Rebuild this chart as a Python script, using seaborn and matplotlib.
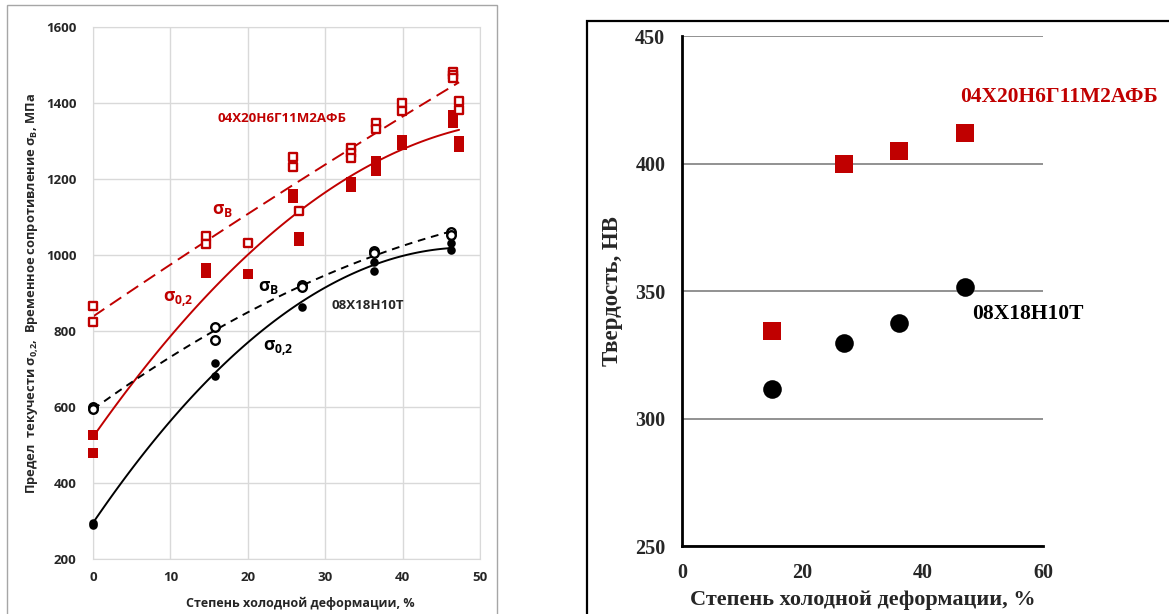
import matplotlib
matplotlib.use("Agg")
import matplotlib.pyplot as plt
import seaborn as sns
from matplotlib.patches import Rectangle

RED = "#c00000"
DARK = "#262626"

# --- left chart: strength vs. cold deformation, %
# 04Х20Н6Г11М2АФБ, yield strength σ0,2 (filled squares)
red_ys_x = [0, 0, 14.6, 14.6, 20, 25.9, 25.9, 26.6, 26.6, 33.3, 33.3,
            36.6, 36.6, 39.9, 39.9, 46.5, 46.5, 46.5, 47.3, 47.3]
red_ys = [526, 480, 965, 952, 950, 1162, 1150, 1048, 1038, 1192, 1180,
          1248, 1222, 1303, 1290, 1368, 1358, 1348, 1300, 1285]
# 04Х20Н6Г11М2АФБ, tensile strength σВ (open squares)
red_uts_x = [0, 0, 14.6, 14.6, 20, 25.9, 25.9, 26.6, 33.3, 33.3, 33.3,
             36.6, 36.6, 39.9, 39.9, 46.5, 46.5, 46.5, 47.3, 47.3]
red_uts = [867, 823, 1051, 1029, 1032, 1259, 1231, 1117, 1281, 1268, 1255,
           1348, 1333, 1401, 1379, 1483, 1474, 1466, 1405, 1383]
# 08Х18Н10Т, σ0,2 (filled circles) and σВ (open circles)
blk_ys_x = [0, 0, 15.7, 15.7, 27, 36.3, 36.3, 46.3, 46.3]
blk_ys = [295, 289, 717, 682, 864, 982, 958, 1032, 1013]
blk_uts_x = [0, 0, 15.7, 15.7, 27, 27, 36.3, 36.3, 46.3, 46.3]
blk_uts = [599, 595, 811, 776, 922, 917, 1012, 1006, 1061, 1053]

# --- right chart: hardness HB vs. cold deformation, %
hb_x = [15, 27, 36, 47]
hb_red = [334.5, 400, 405, 412]
hb_black = [311.5, 329.5, 337.5, 351.5]

sns.set_style("white")
plt.rcParams["font.family"] = ["Open Sans", "DejaVu Sans"]
plt.rcParams["mathtext.fontset"] = "custom"
plt.rcParams["mathtext.rm"] = "Open Sans:bold"
plt.rcParams["mathtext.bf"] = "Open Sans:bold"
plt.rcParams["mathtext.it"] = "Open Sans:italic"

fig = plt.figure(figsize=(11.69, 6.14), dpi=100)

# frames around the two pictures
fig.patches.append(Rectangle((0.006, -0.01), 0.419, 1.002, transform=fig.transFigure,
                             fill=False, edgecolor="#a6a6a6", lw=1.0))
fig.patches.append(Rectangle((0.502, -0.01), 0.52, 0.976, transform=fig.transFigure,
                             fill=False, edgecolor="black", lw=1.6))

# ---------------- left ----------------
ax = fig.add_axes([0.0796, 0.0896, 0.331, 0.866])
sns.regplot(x=red_uts_x, y=red_uts, order=2, ci=None, scatter=False, truncate=True,
            color=RED, line_kws=dict(lw=1.4, dashes=(7, 3.5)), ax=ax)
sns.regplot(x=red_ys_x, y=red_ys, order=2, ci=None, scatter=False, truncate=True,
            color=RED, line_kws=dict(lw=1.4), ax=ax)
sns.regplot(x=blk_uts_x, y=blk_uts, order=2, ci=None, scatter=False, truncate=True,
            color="black", line_kws=dict(lw=1.4, dashes=(4, 3)), ax=ax)
sns.regplot(x=blk_ys_x, y=blk_ys, order=2, ci=None, scatter=False, truncate=True,
            color="black", line_kws=dict(lw=1.4), ax=ax)

sns.scatterplot(x=red_ys_x, y=red_ys, marker="s", s=55, color=RED, linewidth=0,
                clip_on=False, zorder=4, ax=ax)
sns.scatterplot(x=red_uts_x, y=red_uts, marker="s", s=38, color="white", edgecolor=RED,
                linewidth=1.7, clip_on=False, zorder=4, ax=ax)
sns.scatterplot(x=blk_ys_x, y=blk_ys, marker="o", s=38, color="black", linewidth=0,
                clip_on=False, zorder=4, ax=ax)
sns.scatterplot(x=blk_uts_x, y=blk_uts, marker="o", s=38, color="white", edgecolor="black",
                linewidth=1.7, clip_on=False, zorder=4, ax=ax)

ax.set_xlim(0, 50)
ax.set_ylim(200, 1600)
ax.set_xticks(range(0, 51, 10))
ax.set_yticks(range(200, 1601, 200))
ax.grid(True, color="#d9d9d9", lw=1)
for s in ax.spines.values():
    s.set_color("#d9d9d9")
ax.tick_params(axis="both", length=4, color="#bfbfbf", labelsize=9.5, labelcolor=DARK)
ax.tick_params(axis="y", pad=8)
ax.tick_params(axis="x", pad=5)
for lab in ax.get_xticklabels() + ax.get_yticklabels():
    lab.set_fontweight("bold")
ax.set_xlabel("Степень холодной деформации, %", fontsize=9, fontweight="bold",
              color=DARK)
ax.xaxis.set_label_coords(0.535, -0.071)
ax.set_ylabel(r"Предел  текучести $\mathregular{σ_{0{,}2}}$,  Временное сопротивление "
              r"$\mathregular{σ_{В}}$, МПа", fontsize=9.3, fontweight="bold",
              color=DARK, labelpad=4)

sig = dict(fontsize=12.5, fontweight="bold", va="center")
ax.text(24.4, 1360, "04Х20Н6Г11М2АФБ", color=RED, fontsize=9.5, fontweight="bold",
        ha="center", va="center")
ax.text(15.4, 1120, r"$\mathregular{σ_{В}}$", color=RED, ha="left", **sig)
ax.text(11, 885, r"$\mathregular{σ_{0{,}2}}$", color=RED, ha="center", **sig)
ax.text(21.3, 915, r"$\mathregular{σ_{В}}$", color="black", ha="left", **sig)
ax.text(35.5, 868, "08Х18Н10Т", color=DARK, fontsize=9.5, fontweight="bold",
        ha="center", va="center")
ax.text(23.9, 755, r"$\mathregular{σ_{0{,}2}}$", color="black", ha="center", **sig)

# ---------------- right ----------------
serif = ["Liberation Serif", "DejaVu Serif"]
bx = fig.add_axes([0.5834, 0.1107, 0.3088, 0.8306])
sns.scatterplot(x=hb_x, y=hb_red, marker="s", s=165, color=RED, linewidth=0,
                zorder=4, ax=bx)
sns.scatterplot(x=hb_x, y=hb_black, marker="o", s=180, color="black", linewidth=0,
                zorder=4, ax=bx)
bx.set_xlim(0, 60)
bx.set_ylim(250, 450)
bx.set_xticks(range(0, 61, 20))
bx.set_yticks(range(250, 451, 50))
bx.yaxis.grid(True, color="#7f7f7f", lw=1.2)
bx.set_axisbelow(True)
for side in ("top", "right"):
    bx.spines[side].set_visible(False)
for side in ("left", "bottom"):
    bx.spines[side].set_color("black")
    bx.spines[side].set_linewidth(2)
bx.tick_params(axis="both", length=6, width=2, color="black", labelsize=14.5, pad=6)
for lab in bx.get_xticklabels() + bx.get_yticklabels():
    lab.set_family(serif)
    lab.set_fontweight("bold")
bx.set_xlabel("Степень холодной деформации, %", family=serif, fontsize=16,
              fontweight="bold", labelpad=5)
bx.set_ylabel("Твердость, НВ", family=serif, fontsize=16.5, fontweight="bold", labelpad=9)
bx.text(46.2, 424, "04Х20Н6Г11М2АФБ", family=serif, color=RED, fontsize=15.5,
        fontweight="bold", ha="left", va="baseline")
bx.text(48.2, 339, "08Х18Н10Т", family=serif, color="black", fontsize=15.5,
        fontweight="bold", ha="left", va="baseline")

fig.savefig("out.png", dpi=100)
